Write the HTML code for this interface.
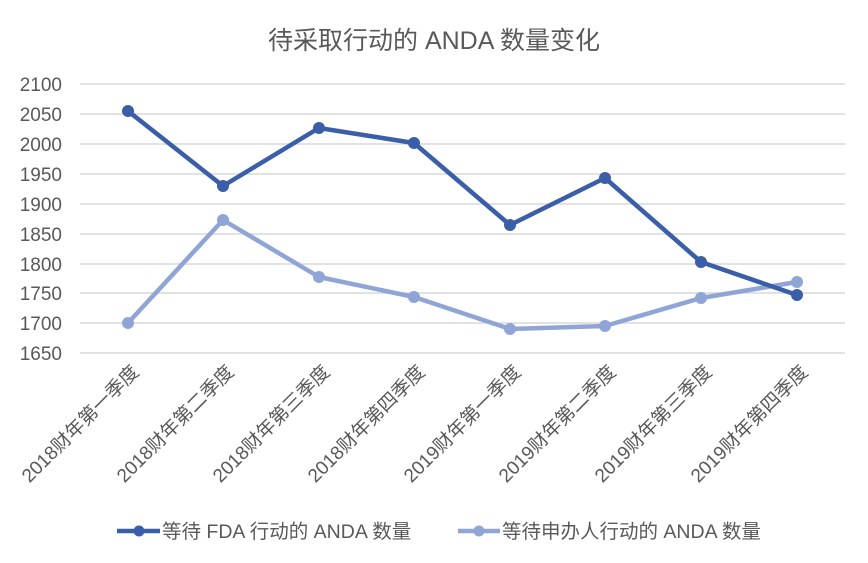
<!DOCTYPE html>
<html><head><meta charset="utf-8"><style>
html,body{margin:0;padding:0;background:#fff;}
svg{display:block;font-family:"Liberation Sans","Noto Sans CJK SC",sans-serif;}
</style></head><body>
<svg width="868" height="563" viewBox="0 0 868 563">
<rect width="868" height="563" fill="#fff"/>
<text x="434" y="49" text-anchor="middle" font-size="25" fill="#595959">待采取行动的 ANDA 数量变化</text>
<g stroke="#d9d9d9" stroke-width="1.5">
<line x1="80" x2="845" y1="84" y2="84"/><line x1="80" x2="845" y1="114" y2="114"/>
<line x1="80" x2="845" y1="144" y2="144"/><line x1="80" x2="845" y1="174" y2="174"/>
<line x1="80" x2="845" y1="204" y2="204"/><line x1="80" x2="845" y1="234" y2="234"/>
<line x1="80" x2="845" y1="264" y2="264"/><line x1="80" x2="845" y1="293" y2="293"/>
<line x1="80" x2="845" y1="323" y2="323"/><line x1="80" x2="845" y1="353" y2="353"/>
</g>
<g font-size="19" fill="#595959" text-anchor="end">
<text x="62" y="91">2100</text><text x="62" y="121">2050</text><text x="62" y="151">2000</text>
<text x="62" y="181">1950</text><text x="62" y="211">1900</text><text x="62" y="241">1850</text>
<text x="62" y="271">1800</text><text x="62" y="300">1750</text><text x="62" y="330">1700</text>
<text x="62" y="360">1650</text>
</g>
<g font-size="19" fill="#595959" text-anchor="end">
<text transform="translate(140,373) rotate(-45)">2018财年第一季度</text>
<text transform="translate(235,373) rotate(-45)">2018财年第二季度</text>
<text transform="translate(331,373) rotate(-45)">2018财年第三季度</text>
<text transform="translate(426,373) rotate(-45)">2018财年第四季度</text>
<text transform="translate(522,373) rotate(-45)">2019财年第一季度</text>
<text transform="translate(617,373) rotate(-45)">2019财年第二季度</text>
<text transform="translate(713,373) rotate(-45)">2019财年第三季度</text>
<text transform="translate(809,373) rotate(-45)">2019财年第四季度</text>
</g>
<g stroke="#8fa5d5" fill="#8fa5d5">
<polyline fill="none" stroke-width="4.5" stroke-linejoin="round" points="128,323 223,220 319,277 414,297 510,329 605,326 701,298 797,282"/>
<circle cx="128" cy="323" r="5.5"/><circle cx="223" cy="220" r="5.5"/><circle cx="319" cy="277" r="5.5"/><circle cx="414" cy="297" r="5.5"/>
<circle cx="510" cy="329" r="5.5"/><circle cx="605" cy="326" r="5.5"/><circle cx="701" cy="298" r="5.5"/><circle cx="797" cy="282" r="5.5"/>
</g>
<g stroke="#3a5fa8" fill="#3a5fa8">
<polyline fill="none" stroke-width="4.5" stroke-linejoin="round" points="128,111 223,186 319,128 414,143 510,225 605,178 701,262 797,295"/>
<circle cx="128" cy="111" r="5.5"/><circle cx="223" cy="186" r="5.5"/><circle cx="319" cy="128" r="5.5"/><circle cx="414" cy="143" r="5.5"/>
<circle cx="510" cy="225" r="5.5"/><circle cx="605" cy="178" r="5.5"/><circle cx="701" cy="262" r="5.5"/><circle cx="797" cy="295" r="5.5"/>
</g>
<line x1="117" x2="160" y1="531" y2="531" stroke="#3a5fa8" stroke-width="4.5"/>
<circle cx="139" cy="531" r="5.5" fill="#3a5fa8"/>
<text x="162" y="538" font-size="19.5" fill="#595959">等待 FDA 行动的 ANDA 数量</text>
<line x1="458" x2="500" y1="531" y2="531" stroke="#8fa5d5" stroke-width="4.5"/>
<circle cx="479" cy="531" r="5.5" fill="#8fa5d5"/>
<text x="502" y="538" font-size="19.5" fill="#595959">等待申办人行动的 ANDA 数量</text>
</svg>
</body></html>
